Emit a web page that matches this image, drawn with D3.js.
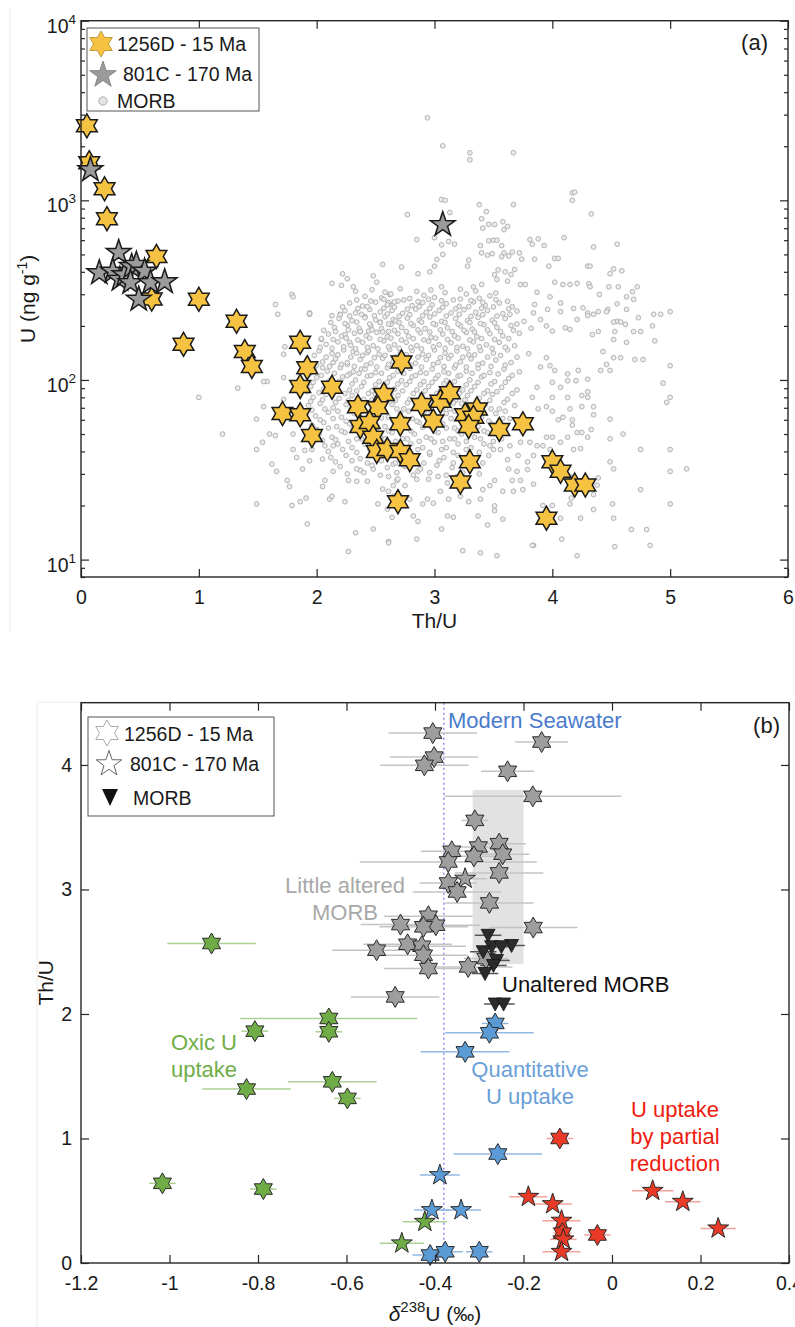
<!DOCTYPE html>
<html><head><meta charset="utf-8">
<script src="https://cdn.jsdelivr.net/npm/d3@7"></script>
<style>
body{margin:0;background:#fff;}
svg{display:block;font-family:"Liberation Sans",Arial,Helvetica,sans-serif;}
</style></head><body>
<svg id="chart" width="795" height="1327"></svg>
<script>
// ---------------- Panel (a) data: [Th/U, U (ng/g)] ----------------
const site1256D = [[0.05,2600],[0.07,1620],[0.20,1160],[0.22,790],[0.64,487],[0.60,282],[1.00,281],[0.87,158],[1.32,212],[1.39,144],[1.45,119],[1.86,162],[1.92,117],[1.86,92],[2.13,91],[1.71,65],[1.86,64],[1.96,49],[2.35,71],[2.57,83],[2.52,70],[2.37,55],[2.45,58],[2.48,48],[2.51,40],[2.60,41],[2.71,57],[2.72,126],[2.69,21],[2.71,40],[2.79,36],[2.89,73],[3.05,76],[3.13,85],[2.99,59],[3.26,64],[3.36,69],[3.33,62],[3.29,55],[3.55,53],[3.75,57],[3.30,35],[3.22,27],[4.00,35],[4.07,31],[4.19,26],[4.28,26],[3.95,17]];
const site801C = [[0.08,1480],[0.155,395],[0.32,512],[0.27,403],[0.33,363],[0.37,385],[0.43,428],[0.47,440],[0.54,403],[0.42,348],[0.59,348],[0.71,352],[0.49,281],[3.07,732]];
const morb = [
[2.94,2880],[3.07,2010],[3.30,1840],[3.30,1680],[3.67,1840],[4.17,1100],[4.19,1110],[4.17,1000],[4.33,840],[3.06,1010],[3.09,1000],[3.38,946],[3.67,946],[2.77,833],[3.13,855],[3.44,865],
[3.40,790],[3.41,700],[3.46,735],[3.51,733],[3.58,760],[3.59,687],[3.62,715],[2.85,605],[3.00,620],[3.12,590],[4.10,620],[3.81,605],
[3.17,570],[3.06,565],[3.07,500],[3.02,469],[3.29,465],[3.39,560],[3.46,595],[3.50,600],[3.53,600],[3.40,510],[3.45,495],[3.49,505],[3.57,560],[3.59,510],[3.57,485],[3.63,490],[3.66,515],[3.72,510],[3.74,470],[3.83,570],[3.88,610],[3.93,560],[3.85,470],[4.35,550],[4.55,570],
[2.56,440],[2.72,425],[2.86,390],[2.96,400],[3.00,430],[3.28,430],[3.97,430],[4.02,475],[4.05,475],[4.30,430],[4.32,430],[4.49,390],[4.52,415],[4.59,405],[3.51,386],[3.54,410],[3.60,400],[3.65,386],[3.68,412],
[3.62,355],[3.53,363],[3.06,330],[3.33,330],[3.40,340],[3.73,340],[3.77,340],[4.02,350],[4.09,340],[4.15,340],[4.21,345],[4.31,343],[4.32,330],[4.48,330],[4.56,330],[4.72,330],
[4.40,299],[4.63,290],[4.68,310],[4.69,281],[3.87,308],[3.98,290],
[4.47,247],[4.55,265],[4.63,247],[4.86,232],[4.92,232],[5.00,240],[3.85,263],[3.96,247],[4.07,268],[4.30,236],[4.39,240],[4.85,200],[4.21,217],[4.55,212],[4.62,204],[4.73,222],
[4.75,186],[4.87,165],[5.00,120],[4.94,96],[5.00,80],[4.97,75],[4.60,50],[4.49,47],[4.75,41],[5.00,41],[5.00,31],[5.14,32],[5.00,20.4],[4.75,24.5],[4.67,14.7],[4.80,14.7],[4.83,12],[4.53,11.8],[4.52,17],[4.51,20.4],[4.52,32],[4.49,35],[4.24,17],[4.35,19],[4.21,10.5],[4.08,13],[4.07,17],[4.00,20],[3.92,20],[3.84,12],[4.15,20.4],[4.16,22],[4.15,29],[4.38,26],[4.35,23],[4.39,28.5],[4.08,32],[3.98,41],[4.07,45],[4.13,48],[4.21,51],[4.25,51],[4.30,48],[4.33,53],[4.18,41],[4.24,41.5],[3.87,43],[3.92,43],[3.84,38],[3.95,48],[4.00,48],[4.09,62],[4.17,60],[4.17,56],[4.05,60],[4.15,69],[4.25,71],[4.30,80],[4.35,71],[4.35,64],[4.49,60.5],[4.30,101],[4.25,82],[4.13,80],[4.00,80],[4.00,97],[4.07,91],[4.13,99],[4.20,99],[4.30,86],[4.13,108],[4.22,113],[4.41,113],[4.49,113],[4.46,122],[4.52,133],[4.58,133],[4.70,130],[4.77,130],[4.63,162],[4.43,144],[4.39,186],[4.53,186],[4.52,168],[4.34,179],[4.15,191],[4.11,195],[4.00,187],[3.95,200],[3.90,217],[3.84,236],[4.07,240],[4.18,250],[4.26,252],[4.30,228],[4.35,232],[4.46,240],[4.52,210],[4.58,210],[4.69,186],[3.95,133],[3.98,120],[4.02,113],[3.90,118],[3.87,91],[3.83,80],[3.95,71],[4.00,67],[3.88,69],
[2.61,29],[2.56,24.7],[2.65,22.5],[2.82,17.5],[2.86,16.3],[2.85,13],[2.61,12.6],[3.06,14.8],[2.90,20.4],[2.99,20.6],[3.11,17.5],[3.16,17.2],[3.24,11.2],[3.39,10.9],[3.53,10.5],[3.37,17.5],[3.45,15.6],[3.51,19.9],[3.51,18.7],[3.58,16.8],[3.58,24],[3.67,24],[3.70,31],[3.63,31.9],[3.79,31.7],[3.84,26.3],[3.75,24.5],[3.83,12],[2.85,28],[2.79,21.7],[2.94,21.7],[3.05,24],[3.12,21.7],[3.22,22.5],[3.29,21],[3.39,21.7],[3.41,24.5],[3.47,25.8],[3.26,25.5],[3.11,26.7],[2.95,28],[3.03,29],[3.19,29],[2.86,31],[2.75,33],[2.65,34],[2.68,27.6],[2.75,25.8],[3.51,27.6],[3.66,27.6],[3.73,27.6],[3.62,36],[3.71,38],[3.79,35],[3.56,41],[3.64,43],[3.73,45],[3.81,45],[3.47,43],
[1.00,80],[1.20,50],[1.33,90],[1.49,20.4],[1.49,41],[1.49,60.5],[1.54,45],[1.58,98],[1.55,71],[1.60,50],[1.62,34],[1.66,31],[1.65,49],[1.72,139],[1.72,78],[1.73,153],[1.75,27.6],[1.77,25.5],[1.79,20],[1.80,41],[1.80,50],[1.83,37],[1.86,21],[1.91,22],[1.92,15.8],[1.88,31.9],[1.90,40.5],[1.94,35.5],[1.96,41],[2.00,53],[2.05,36.3],[2.05,25.5],[2.07,27.6],[2.11,21.7],[2.13,22.5],[2.14,31],[2.14,43],[2.05,117],[2.07,85],[2.04,168],[1.94,236],[2.24,21],[2.27,27.6],[2.33,14.1],[2.27,11.1],[2.48,14.8],[2.61,12.4],[2.34,27.3],[2.43,27.3],[2.48,31.9],[2.37,31.5],[2.61,24],[2.65,25.8],[2.69,28.1],[2.52,20.4],[2.60,19.1],[2.64,17.2],[1.65,263],[1.67,232],[1.94,232],[2.13,228],[2.20,232],[2.24,179],[2.37,186],[2.44,187],[2.54,210],[2.62,263],[2.61,186],[2.28,162],[2.31,144],[2.43,142],[2.14,125],[2.26,122],[2.38,115],[2.28,108],[1.72,103],[1.55,98],
[1.79,299],[1.80,290],[1.94,234],[2.13,345],[2.21,336],[2.26,366],[2.31,330],[2.22,390],[2.41,225],[2.48,380],[2.51,350],[2.61,270],[2.62,299],[2.65,217],
[2.41,292],[2.55,286],[2.63,301],[2.79,284],[2.91,296],[3.00,288],[3.16,279],[3.27,301],[3.38,285],[3.47,294],
[2.28,268],[2.39,258],[2.50,271],[2.60,262],[2.69,275],[2.81,259],[2.90,270],[2.98,262],[3.10,266],[3.21,257],[3.33,272],[3.43,261],[3.55,268],[3.66,256],
[2.24,243],[2.33,236],[2.45,247],[2.54,239],[2.64,244],[2.73,235],[2.84,248],[2.93,238],[3.04,244],[3.14,236],[3.25,246],[3.35,238],[3.45,244],[3.58,234],[3.70,242],
[2.19,220],[2.30,214],[2.41,222],[2.50,216],[2.58,225],[2.67,213],[2.77,221],[2.87,215],[2.96,224],[3.06,212],[3.18,220],[3.28,214],[3.37,223],[3.49,215],[3.60,220],[3.76,212],
[2.15,196],[2.26,202],[2.36,194],[2.46,200],[2.55,193],[2.63,204],[2.72,196],[2.82,201],[2.92,193],[3.01,203],[3.11,195],[3.22,200],[3.32,192],[3.42,203],[3.53,196],[3.65,201],[3.82,194],
[2.10,180],[2.21,175],[2.32,182],[2.42,176],[2.51,184],[2.60,174],[2.69,181],[2.78,175],[2.88,183],[2.97,173],[3.07,180],[3.17,176],[3.27,184],[3.36,174],[3.47,181],[3.58,176],[3.72,182],
[2.08,158],[2.18,163],[2.29,156],[2.39,162],[2.48,155],[2.57,165],[2.66,157],[2.76,162],[2.85,155],[2.95,164],[3.04,157],[3.14,161],[3.24,154],[3.33,163],[3.44,157],[3.55,162],[3.68,155],
[2.02,145],[2.13,140],[2.23,147],[2.34,141],[2.44,146],[2.53,139],[2.62,148],[2.71,142],[2.81,146],[2.90,139],[3.00,147],[3.09,141],[3.19,145],[3.29,138],[3.39,146],[3.50,141],[3.62,147],[3.80,140],
[2.05,126],[2.16,131],[2.26,125],[2.37,130],[2.46,124],[2.56,132],[2.65,127],[2.75,131],[2.84,124],[2.93,130],[3.03,125],[3.12,132],[3.22,126],[3.31,131],[3.41,124],[3.52,129],[3.65,125],
[1.98,116],[2.09,112],[2.20,117],[2.31,111],[2.41,115],[2.50,110],[2.60,117],[2.69,112],[2.79,116],[2.88,110],[2.98,115],[3.08,111],[3.17,117],[3.27,112],[3.37,116],[3.47,110],[3.59,115],[3.72,111],
[2.00,103],[2.11,99],[2.22,104],[2.33,100],[2.43,105],[2.53,98],[2.62,103],[2.72,99],[2.81,104],[2.91,98],[3.01,102],[3.10,99],[3.20,105],[3.30,100],[3.40,104],[3.51,98],[3.63,102],
[1.95,92],[2.06,89],[2.17,94],[2.28,88],[2.38,92],[2.47,87],[2.57,93],[2.66,89],[2.76,94],[2.85,88],[2.95,92],[3.05,87],[3.14,93],[3.24,88],[3.34,92],[3.45,87],[3.57,91],[3.70,88],
[1.97,80],[2.08,83],[2.19,79],[2.30,82],[2.40,78],[2.50,83],[2.60,79],[2.69,82],[2.79,78],[2.89,83],[2.99,79],[3.08,82],[3.18,77],[3.28,82],[3.38,79],[3.49,83],[3.62,78],
[1.93,72],[2.03,74],[2.14,70],[2.25,73],[2.35,69],[2.45,74],[2.55,70],[2.64,73],[2.74,69],[2.84,74],[2.94,70],[3.03,73],[3.13,69],[3.23,74],[3.33,70],[3.43,73],[3.55,69],[3.68,72],
[1.99,63],[2.10,66],[2.21,62],[2.32,65],[2.42,61],[2.52,66],[2.61,62],[2.71,65],[2.81,61],[2.91,66],[3.00,62],[3.10,65],[3.20,61],[3.30,66],[3.40,62],[3.52,65],[3.64,61],
[1.96,56],[2.06,58],[2.17,55],[2.28,57],[2.38,54],[2.48,58],[2.58,55],[2.67,57],[2.77,54],[2.87,58],[2.97,55],[3.07,57],[3.17,54],[3.27,58],[3.37,55],[3.48,57],[3.60,54],
[2.02,50],[2.13,48],[2.24,51],[2.34,47],[2.44,50],[2.54,48],[2.64,51],[2.73,47],[2.83,50],[2.93,48],[3.03,51],[3.13,47],[3.23,50],[3.34,48],[3.45,51],[3.57,47],
[2.07,43],[2.18,44],[2.30,42],[2.41,44],[2.51,42],[2.61,45],[2.70,42],[2.80,44],[2.90,42],[3.00,45],[3.10,42],[3.20,44],[3.31,42],[3.42,44],
[2.12,37],[2.25,38],[2.37,36.5],[2.49,38.5],[2.60,37],[2.72,38],[2.84,36.5],[2.96,38.5],[3.08,37],[3.20,38],[3.33,36.5],[3.46,38],
[2.20,33],[2.34,32],[2.47,33.5],[2.60,32.5],[2.74,33.5],[2.88,32],[3.02,33.5],[3.15,32.5],[3.30,33],
[2.33,312],[2.47,318],[2.58,308],[2.71,322],[2.85,311],[2.97,317],[3.09,306],[3.22,320],[3.35,313],[3.52,305],
[2.34,279],[2.46,275],[2.57,281],[2.66,272],[2.74,279],[2.86,273],[2.95,281],[3.06,276],[3.22,282],[3.31,277],[3.41,270],[3.52,280],[3.62,274],
[2.22,255],[2.35,250],[2.43,256],[2.57,251],[2.66,254],[2.77,248],[2.87,256],[2.96,250],[3.07,254],[3.18,249],[3.29,256],[3.40,251],[3.50,255],[3.63,249],
[2.20,231],[2.28,227],[2.38,232],[2.49,228],[2.60,233],[2.70,226],[2.79,231],[2.90,228],[3.00,233],[3.10,227],[3.21,232],[3.31,226],[3.41,231],[3.53,227],[3.64,232],
[2.12,209],[2.24,206],[2.34,210],[2.45,205],[2.54,209],[2.61,205],[2.70,209],[2.80,206],[2.89,210],[2.99,206],[3.09,209],[3.20,205],[3.30,209],[3.39,206],[3.51,208],[3.70,205],
[2.06,189],[2.16,186],[2.27,190],[2.37,186],[2.47,190],[2.56,185],[2.66,189],[2.76,186],[2.86,190],[2.96,185],[3.05,190],[3.15,186],[3.25,189],[3.34,185],[3.45,190],[3.56,186],[3.67,189],
[2.04,170],[2.14,168],[2.25,171],[2.35,167],[2.45,171],[2.54,168],[2.63,171],[2.72,167],[2.82,170],[2.91,167],[3.01,171],[3.11,168],[3.20,171],[3.30,167],[3.40,170],[3.51,168],[3.63,170],
[2.03,152],[2.13,150],[2.23,153],[2.33,149],[2.43,152],[2.52,149],[2.61,153],[2.70,150],[2.80,152],[2.89,149],[2.99,153],[3.09,150],[3.19,152],[3.28,149],[3.38,153],[3.49,150],[3.60,152],
[1.98,137],[2.08,134],[2.18,138],[2.29,134],[2.39,137],[2.49,133],[2.58,137],[2.67,134],[2.76,138],[2.86,134],[2.95,137],[3.05,133],[3.14,137],[3.24,134],[3.34,138],[3.45,134],[3.56,137],[3.70,134],
[2.00,121],[2.11,119],[2.21,122],[2.32,119],[2.42,121],[2.51,118],[2.61,122],[2.70,119],[2.80,121],[2.89,118],[2.99,122],[3.08,119],[3.18,121],[3.27,118],[3.37,122],[3.48,119],[3.60,121],
[1.94,108],[2.04,106],[2.15,109],[2.26,106],[2.36,109],[2.46,106],[2.55,109],[2.65,106],[2.74,109],[2.84,106],[2.93,109],[3.03,106],[3.12,109],[3.22,106],[3.32,109],[3.42,106],[3.54,108],[3.66,106],
[1.97,97],[2.08,95],[2.19,98],[2.30,95],[2.40,97],[2.50,94],[2.60,97],[2.69,95],[2.79,98],[2.88,94],[2.98,97],[3.08,95],[3.17,98],[3.27,94],[3.37,97],[3.48,95],[3.60,97],
[1.92,86],[2.02,85],[2.13,87],[2.24,84],[2.34,87],[2.44,84],[2.54,87],[2.63,84],[2.73,87],[2.82,84],[2.92,87],[3.02,84],[3.11,87],[3.21,84],[3.31,87],[3.42,84],[3.53,86],[3.66,84],
[1.95,76],[2.05,77.5],[2.16,75],[2.27,77],[2.37,74.5],[2.47,77.5],[2.57,75],[2.67,77],[2.77,74.5],[2.86,77.5],[2.96,75],[3.06,77],[3.16,74.5],[3.26,77.5],[3.36,75],[3.47,77],[3.59,75],
[1.96,68],[2.07,69],[2.18,67],[2.29,69],[2.39,67],[2.49,69.5],[2.58,67],[2.68,69],[2.78,67],[2.88,69.5],[2.97,67],[3.07,69],[3.17,67],[3.27,69.5],[3.37,67],[3.48,69],[3.60,67],
[2.03,60],[2.14,61],[2.25,59],[2.36,61],[2.46,59],[2.55,61.5],[2.65,59],[2.75,61],[2.85,59],[2.94,61.5],[3.04,59],[3.14,61],[3.24,59],[3.35,61],[3.46,59],[3.58,61],
[1.99,53],[2.10,54],[2.21,52],[2.31,54],[2.41,52],[2.51,54.5],[2.61,52],[2.70,54],[2.80,52],[2.90,54.5],[3.00,52],[3.10,54],[3.20,52],[3.31,54],[3.42,52],[3.54,54],
[2.05,46],[2.16,46.5],[2.27,45.5],[2.38,47],[2.48,45.5],[2.58,47],[2.67,45.5],[2.77,47],[2.87,45.5],[2.97,47],[3.07,45.5],[3.17,47],[3.27,45.5],[3.39,47],[3.50,45.5],
[2.10,40],[2.22,41],[2.34,39.5],[2.45,41],[2.56,39.5],[2.66,41],[2.76,39.5],[2.86,41],[2.96,39.5],[3.06,41],[3.16,39.5],[3.27,41],[3.38,39.5],[3.50,41],
[2.16,35],[2.30,35.5],[2.43,34.5],[2.55,35.5],[2.67,34.5],[2.79,35.5],[2.91,34.5],[3.04,35.5],[3.16,34.5],[3.28,35.5],[3.41,34.5],
[2.26,30],[2.40,30.5],[2.54,29.5],[2.68,30.5],[2.82,29.5],[2.96,30.5],[3.10,29.5],[3.24,30.5],[3.38,30]
];
const xTicksA = [0,1,2,3,4,5,6];
const yTicksA = [10,100,1000,10000];
const yMinorA = [8,9,20,30,40,50,60,70,80,90,200,300,400,500,600,700,800,900,2000,3000,4000,5000,6000,7000,8000,9000];

// ---------------- Panel (b) data: [d238U, Th/U, 2SD error, shape h=1256D p=801C] ----------------
const xTicksB = [-1.2,-1,-0.8,-0.6,-0.4,-0.2,0,0.2,0.4];
const yTicksB = [0,1,2,3,4];
const grayPts = [[-0.405,4.256,0.1,'h'],[-0.159,4.184,0.06,'h'],[-0.402,4.063,0.1,'h'],[-0.424,3.997,0.1,'h'],[-0.236,3.949,0.06,'h'],[-0.179,3.748,0.2,'h'],[-0.310,3.555,0.03,'h'],[-0.362,3.307,0.07,'h'],[-0.302,3.341,0.05,'h'],[-0.255,3.368,0.06,'h'],[-0.312,3.266,0.06,'h'],[-0.247,3.283,0.06,'h'],[-0.370,3.221,0.2,'h'],[-0.255,3.133,0.1,'h'],[-0.370,3.052,0.065,'h'],[-0.332,3.087,0.05,'p'],[-0.350,2.98,0.1,'h'],[-0.277,2.892,0.1,'h'],[-0.178,2.694,0.1,'h'],[-0.415,2.785,0.1,'h'],[-0.398,2.713,0.1,'h'],[-0.426,2.70,0.1,'h'],[-0.478,2.718,0.09,'h'],[-0.462,2.56,0.1,'h'],[-0.43,2.544,0.1,'h'],[-0.426,2.472,0.1,'h'],[-0.415,2.365,0.1,'h'],[-0.325,2.378,0.1,'h'],[-0.285,2.445,0.05,'h'],[-0.532,2.512,0.1,'h'],[-0.490,2.137,0.1,'h']];
const greenPts = [[-1.016,0.64,0.03,'h'],[-0.788,0.594,0.03,'h'],[-0.807,1.862,0.03,'h'],[-0.640,1.964,0.2,'h'],[-0.640,1.857,0.03,'h'],[-0.632,1.455,0.1,'h'],[-0.598,1.322,0.03,'h'],[-0.826,1.397,0.1,'h'],[-0.905,2.566,0.1,'h'],[-0.423,0.331,0.05,'p'],[-0.475,0.158,0.05,'p']];
const bluePts = [[-0.264,1.924,0.03,'h'],[-0.277,1.849,0.1,'h'],[-0.332,1.696,0.1,'h'],[-0.258,0.875,0.1,'h'],[-0.389,0.706,0.045,'p'],[-0.407,0.425,0.04,'p'],[-0.341,0.425,0.045,'p'],[-0.411,0.064,0.04,'h'],[-0.377,0.09,0.04,'h'],[-0.300,0.09,0.03,'h']];
const redPts = [[-0.118,1.0,0.03,'h'],[0.092,0.58,0.047,'p'],[0.160,0.492,0.04,'p'],[0.240,0.278,0.04,'p'],[-0.189,0.532,0.043,'p'],[-0.134,0.473,0.043,'p'],[-0.114,0.34,0.043,'p'],[-0.112,0.24,0.02,'h'],[-0.110,0.19,0.03,'p'],[-0.114,0.09,0.043,'p'],[-0.033,0.225,0.03,'h']];
const morbB = [[-0.280,2.632,0.03],[-0.272,2.54,0.03],[-0.227,2.55,0.03],[-0.250,2.54,0.02],[-0.291,2.50,0.03],[-0.261,2.43,0.03],[-0.268,2.39,0.03],[-0.287,2.325,0.03],[-0.264,2.08,0.025],[-0.245,2.08,0.025]];
const seawaterD238U = -0.38;
const littleAlteredRange = [-0.315,-0.2,2.4,3.8]; // x0,x1,y0,y1

// ---------------- drawing ----------------
const svg = d3.select('#chart');
const INK = '#1a1a1a';
const FS_TICK = 19.5, FS_LAB = 21;

function starPath(n, R, r) {
  const p = [];
  for (let i = 0; i < 2*n; i++) {
    const a = -Math.PI/2 + i*Math.PI/n;
    const rad = i % 2 === 0 ? R : r;
    p.push((rad*Math.cos(a)).toFixed(2) + ',' + (rad*Math.sin(a)).toFixed(2));
  }
  return 'M' + p.join('L') + 'Z';
}
const hexa = R => starPath(6, R, R/Math.sqrt(3));
const penta = R => starPath(5, R, R*0.39);

// faint image borders
svg.append('line').attr('x1',10).attr('x2',10).attr('y1',8).attr('y2',632).attr('stroke','#ececec');
svg.append('line').attr('x1',37).attr('x2',795).attr('y1',702).attr('y2',702).attr('stroke','#ececec');
svg.append('line').attr('x1',37).attr('x2',37).attr('y1',702).attr('y2',1327).attr('stroke','#ececec');

function styleAxis(g, fs) {
  g.select('.domain').remove();
  g.selectAll('line').attr('stroke', '#262626').attr('stroke-width', 1.2);
  g.selectAll('text').attr('fill', INK).style('font-size', fs + 'px').style('font-family', '"Liberation Sans",Arial,Helvetica,sans-serif');
}

// ===== Panel (a) =====
const A = {l:81, r:788, t:20.7, b:577};
const xA = d3.scaleLinear().domain([0,6]).range([A.l, A.r]);
const yA = d3.scaleLog().domain([8,10000]).range([A.b, A.t]);
const gA = svg.append('g');

let ax;
ax = gA.append('g').attr('transform',`translate(0,${A.b})`).call(d3.axisBottom(xA).tickValues(xTicksA).tickFormat(d3.format('d')).tickSize(-8).tickPadding(13));
styleAxis(ax, FS_TICK);
ax = gA.append('g').attr('transform',`translate(0,${A.t})`).call(d3.axisTop(xA).tickValues(xTicksA).tickFormat('').tickSize(-8));
styleAxis(ax, FS_TICK);
ax = gA.append('g').attr('transform',`translate(${A.l},0)`).call(d3.axisLeft(yA).tickValues(yTicksA).tickFormat('').tickSize(-8));
styleAxis(ax, FS_TICK);
ax = gA.append('g').attr('transform',`translate(${A.l},0)`).call(d3.axisLeft(yA).tickValues(yMinorA).tickFormat('').tickSize(-4));
styleAxis(ax, FS_TICK);
ax = gA.append('g').attr('transform',`translate(${A.r},0)`).call(d3.axisRight(yA).tickValues(yTicksA).tickFormat('').tickSize(-8));
styleAxis(ax, FS_TICK);
ax = gA.append('g').attr('transform',`translate(${A.r},0)`).call(d3.axisRight(yA).tickValues(yMinorA).tickFormat('').tickSize(-4));
styleAxis(ax, FS_TICK);
yTicksA.forEach(v => {
  const t = gA.append('text').attr('x', 76).attr('y', yA(v) + 12).attr('text-anchor','end').attr('fill', INK).style('font-size', FS_TICK + 'px');
  t.append('tspan').text('10');
  t.append('tspan').attr('dy', -9).style('font-size','13.5px').text(String(Math.round(Math.log10(v))));
});

// MORB cloud
gA.append('g').selectAll('circle').data(morb).join('circle')
  .attr('cx', d => xA(d[0])).attr('cy', d => yA(d[1])).attr('r', 2.4)
  .attr('fill', '#ebebeb').attr('stroke', '#a3a3a3').attr('stroke-width', 0.8);
gA.append('g').selectAll('path').data(site1256D).join('path')
  .attr('d', hexa(12)).attr('transform', d => `translate(${xA(d[0])},${yA(d[1])})`)
  .attr('fill', '#f5c242').attr('stroke', '#1a1a1a').attr('stroke-width', 1.5);
gA.append('g').selectAll('path').data(site801C).join('path')
  .attr('d', penta(13)).attr('transform', d => `translate(${xA(d[0])},${yA(d[1])})`)
  .attr('fill', '#9b9b9b').attr('stroke', '#1a1a1a').attr('stroke-width', 1.5);

gA.append('rect').attr('x', A.l).attr('y', A.t).attr('width', A.r - A.l).attr('height', A.b - A.t)
  .attr('fill','none').attr('stroke','#262626').attr('stroke-width',1.4);

gA.append('text').attr('x', (A.l + A.r)/2).attr('y', 628).attr('text-anchor','middle').attr('fill', INK).style('font-size', FS_LAB+'px').text('Th/U');
{
  const t = gA.append('text').attr('transform', `translate(35,${(A.t+A.b)/2}) rotate(-90)`).attr('text-anchor','middle').attr('fill', INK).style('font-size', FS_LAB+'px');
  t.append('tspan').text('U (ng g');
  t.append('tspan').attr('dy', -8).style('font-size','14px').text('-1');
  t.append('tspan').attr('dy', 8).text(')');
}
gA.append('text').attr('x', 768).attr('y', 50).attr('text-anchor','end').attr('fill', INK).style('font-size','22px').text('(a)');

const LA = gA.append('g');
LA.append('rect').attr('x',87).attr('y',28).attr('width',172).attr('height',83).attr('fill','#fff').attr('stroke','#555').attr('stroke-width',1);
LA.append('path').attr('d', hexa(13)).attr('transform','translate(101,44)').attr('fill','#f5c242').attr('stroke','#b08a2a').attr('stroke-width',0.8);
LA.append('text').attr('x',117).attr('y',51).attr('fill',INK).style('font-size','19.5px').text('1256D - 15 Ma');
LA.append('path').attr('d', penta(14)).attr('transform','translate(103,75)').attr('fill','#9b9b9b').attr('stroke','#7a7a7a').attr('stroke-width',0.8);
LA.append('text').attr('x',123).attr('y',81).attr('fill',INK).style('font-size','19.5px').text('801C - 170 Ma');
LA.append('circle').attr('cx',103).attr('cy',101).attr('r',4.2).attr('fill','#e4e4e4').attr('stroke','#9a9a9a').attr('stroke-width',0.8);
LA.append('text').attr('x',117).attr('y',108).attr('fill',INK).style('font-size','19.5px').text('MORB');

// ===== Panel (b) =====
const B = {l:81, r:789, t:702.7, b:1263};
const xB = d3.scaleLinear().domain([-1.2,0.4]).range([B.l, B.r]);
const yB = d3.scaleLinear().domain([0,4.5]).range([B.b, B.t]);
const gB = svg.append('g');

gB.append('rect').attr('x', xB(littleAlteredRange[0])).attr('y', yB(littleAlteredRange[3]))
  .attr('width', xB(littleAlteredRange[1]) - xB(littleAlteredRange[0]))
  .attr('height', yB(littleAlteredRange[2]) - yB(littleAlteredRange[3]))
  .attr('fill', '#e2e2e2');

gB.append('line').attr('x1', xB(seawaterD238U)).attr('x2', xB(seawaterD238U)).attr('y1', B.t).attr('y2', B.b)
  .attr('stroke', '#7a7af0').attr('stroke-width', 1.3).attr('stroke-dasharray','2,3');

function errBars(data, color) {
  gB.append('g').selectAll('line').data(data).join('line')
    .attr('x1', d => xB(d[0] - d[2])).attr('x2', d => xB(d[0] + d[2]))
    .attr('y1', d => yB(d[1])).attr('y2', d => yB(d[1]))
    .attr('stroke', color).attr('stroke-width', 1.5);
}
function stars(data, fill) {
  gB.append('g').selectAll('path').data(data).join('path')
    .attr('d', d => d[3] === 'p' ? penta(11) : hexa(10.5))
    .attr('transform', d => `translate(${xB(d[0])},${yB(d[1])})`)
    .attr('fill', fill).attr('stroke', '#2a2a2a').attr('stroke-width', 1);
}
errBars(grayPts, '#c4c4c4');
errBars(greenPts, '#abd193');
errBars(bluePts, '#92b8e4');
errBars(redPts, '#f2a49c');
errBars(morbB, '#555');
stars(grayPts, '#9e9e9e');
gB.append('g').selectAll('path').data(morbB).join('path')
  .attr('d', 'M-7,-6L7,-6L0,7Z')
  .attr('transform', d => `translate(${xB(d[0])},${yB(d[1])})`)
  .attr('fill', '#2b2b2b').attr('stroke', '#111').attr('stroke-width', 0.8);
stars(greenPts, '#6fac46');
stars(bluePts, '#5b9bd5');
stars(redPts, '#e83a26');

ax = gB.append('g').attr('transform',`translate(0,${B.b})`).call(d3.axisBottom(xB).tickValues(xTicksB).tickSize(-8).tickPadding(13));
styleAxis(ax, FS_TICK);
ax.selectAll('text').text(d => (d < 0 ? '-' : '') + String(Math.abs(+d.toFixed(1))));
ax = gB.append('g').attr('transform',`translate(0,${B.t})`).call(d3.axisTop(xB).tickValues(xTicksB).tickFormat('').tickSize(-8));
styleAxis(ax, FS_TICK);
ax = gB.append('g').attr('transform',`translate(${B.l},0)`).call(d3.axisLeft(yB).tickValues(yTicksB).tickFormat(d3.format('d')).tickSize(-8).tickPadding(9));
styleAxis(ax, FS_TICK);
ax = gB.append('g').attr('transform',`translate(${B.r},0)`).call(d3.axisRight(yB).tickValues(yTicksB).tickFormat('').tickSize(-8));
styleAxis(ax, FS_TICK);

gB.append('rect').attr('x', B.l).attr('y', B.t).attr('width', B.r - B.l).attr('height', B.b - B.t)
  .attr('fill','none').attr('stroke','#262626').attr('stroke-width',1.4);

{
  const t = gB.append('text').attr('x', (B.l + B.r)/2).attr('y', 1321).attr('text-anchor','middle').attr('fill', INK).style('font-size', FS_LAB+'px');
  t.append('tspan').style('font-style','italic').text('δ');
  t.append('tspan').attr('dy', -9).style('font-size','15px').text('238');
  t.append('tspan').attr('dy', 9).text('U (‰)');
}
gB.append('text').attr('transform', `translate(53,${(B.t+B.b)/2}) rotate(-90)`).attr('text-anchor','middle').attr('fill', INK).style('font-size', FS_LAB+'px').text('Th/U');
gB.append('text').attr('x', 780).attr('y', 733).attr('text-anchor','end').attr('fill', INK).style('font-size','22px').text('(b)');

function note(lines, x, y0, dy, color, anchor) {
  lines.forEach((s, i) => gB.append('text').attr('x', x).attr('y', y0 + i*dy).attr('text-anchor', anchor || 'middle')
    .attr('fill', color).style('font-size','22px').text(s));
}
note(['Modern Seawater'], 448, 728, 0, '#4a7bcc', 'start');
note(['Little altered','MORB'], 345, 893, 26.5, '#a8a8a8');
note(['Unaltered MORB'], 502, 992, 0, '#111', 'start');
note(['Oxic U','uptake'], 204, 1050, 26.5, '#70ad47');
note(['Quantitative','U uptake'], 530, 1077, 27, '#6a9fd8');
note(['U uptake','by partial','reduction'], 675, 1117, 27, '#ee1c10');

const LB = gB.append('g');
LB.append('rect').attr('x',88).attr('y',717).attr('width',186).attr('height',99).attr('fill','#fff').attr('stroke','#555').attr('stroke-width',1);
LB.append('path').attr('d', hexa(13)).attr('transform','translate(107,733)').attr('fill','#fff').attr('stroke','#aaa').attr('stroke-width',1);
LB.append('text').attr('x',124).attr('y',741).attr('fill',INK).style('font-size','19.5px').text('1256D - 15 Ma');
LB.append('path').attr('d', penta(13.5)).attr('transform','translate(109,764)').attr('fill','#fff').attr('stroke','#666').attr('stroke-width',1);
LB.append('text').attr('x',130).attr('y',771).attr('fill',INK).style('font-size','19.5px').text('801C - 170 Ma');
LB.append('path').attr('d','M-8,-8L8,-8L0,9Z').attr('transform','translate(110,797)').attr('fill','#111');
LB.append('text').attr('x',133).attr('y',805).attr('fill',INK).style('font-size','19.5px').text('MORB');
</script>
</body></html>
